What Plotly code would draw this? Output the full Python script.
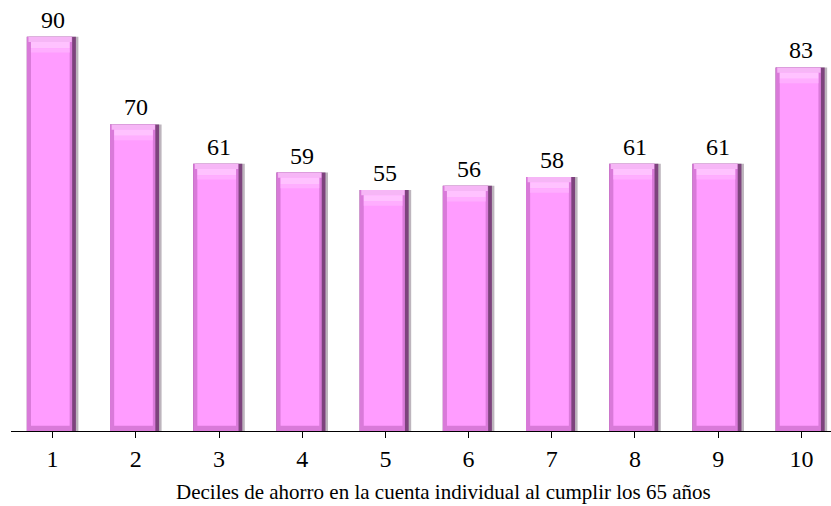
import plotly.graph_objects as go

# Savings deciles and their values
deciles = ["1", "2", "3", "4", "5", "6", "7", "8", "9", "10"]
values = [90, 70, 61, 59, 55, 56, 58, 61, 61, 83]

FONT = "Liberation Serif"

x = list(range(len(deciles)))
fig = go.Figure()

# Bar geometry in category units (bevelled look built from stacked layers)
left = -0.31
full_w = 0.59
edge = 0.05


def layer(color, offset, width, base=None, heights=None):
    fig.add_trace(go.Bar(
        x=x, y=heights if heights is not None else values,
        base=base, offset=offset, width=width,
        marker=dict(color=color, line=dict(width=0)),
        hoverinfo="skip", showlegend=False,
    ))


# drop shadow on the right
layer("#bdb5bd", left + 0.03, full_w)
# dark right bevel
layer("#7d437d", left, full_w)
# mid-tone left / bottom bevel
layer("#d97ad9", left, full_w - 0.045)
# main face
layer("#ff9cff", left + edge, full_w - edge - 0.075,
      base=[1.2] * len(values), heights=[v - 1.2 - 1.0 for v in values])
# light top bevel with a soft fade below it
layer("#f6b6f6", left + 0.02, full_w - 0.07,
      base=[v - 1.2 for v in values], heights=[1.2] * len(values))
layer("#ffc2ff", left + edge, full_w - edge - 0.075,
      base=[v - 2.6 for v in values], heights=[1.4] * len(values))
layer("#ffaeff", left + edge, full_w - edge - 0.075,
      base=[v - 3.6 for v in values], heights=[1.0] * len(values))

# value labels above each bar
for xi, v in zip(x, values):
    fig.add_annotation(x=xi, y=v, text=str(v), showarrow=False,
                       yanchor="bottom", yshift=2, xref="x", yref="y",
                       font=dict(family=FONT, size=24, color="#000000"))

fig.add_annotation(
    text="Deciles de ahorro en la cuenta individual al cumplir los 65 años",
    xref="paper", yref="paper", x=0.527, y=-0.142, xanchor="center",
    yanchor="middle", showarrow=False,
    font=dict(family=FONT, size=21, color="#000000"),
)

fig.update_layout(
    width=831, height=506,
    margin=dict(l=11, r=0, t=0, b=75),
    paper_bgcolor="white", plot_bgcolor="white",
    barmode="overlay",
    xaxis=dict(
        tickmode="array", tickvals=x, ticktext=deciles,
        range=[-0.5, 9.356], showgrid=False, zeroline=False,
        showline=True, linecolor="#000000", linewidth=1,
        ticks="outside", tickson="boundaries", ticklen=6,
        tickcolor="#000000", tickwidth=1, ticklabelstandoff=0,
        tickfont=dict(family=FONT, size=24, color="#000000"),
    ),
    yaxis=dict(range=[0, 98.4], visible=False),
)

fig.write_html("out.html")
